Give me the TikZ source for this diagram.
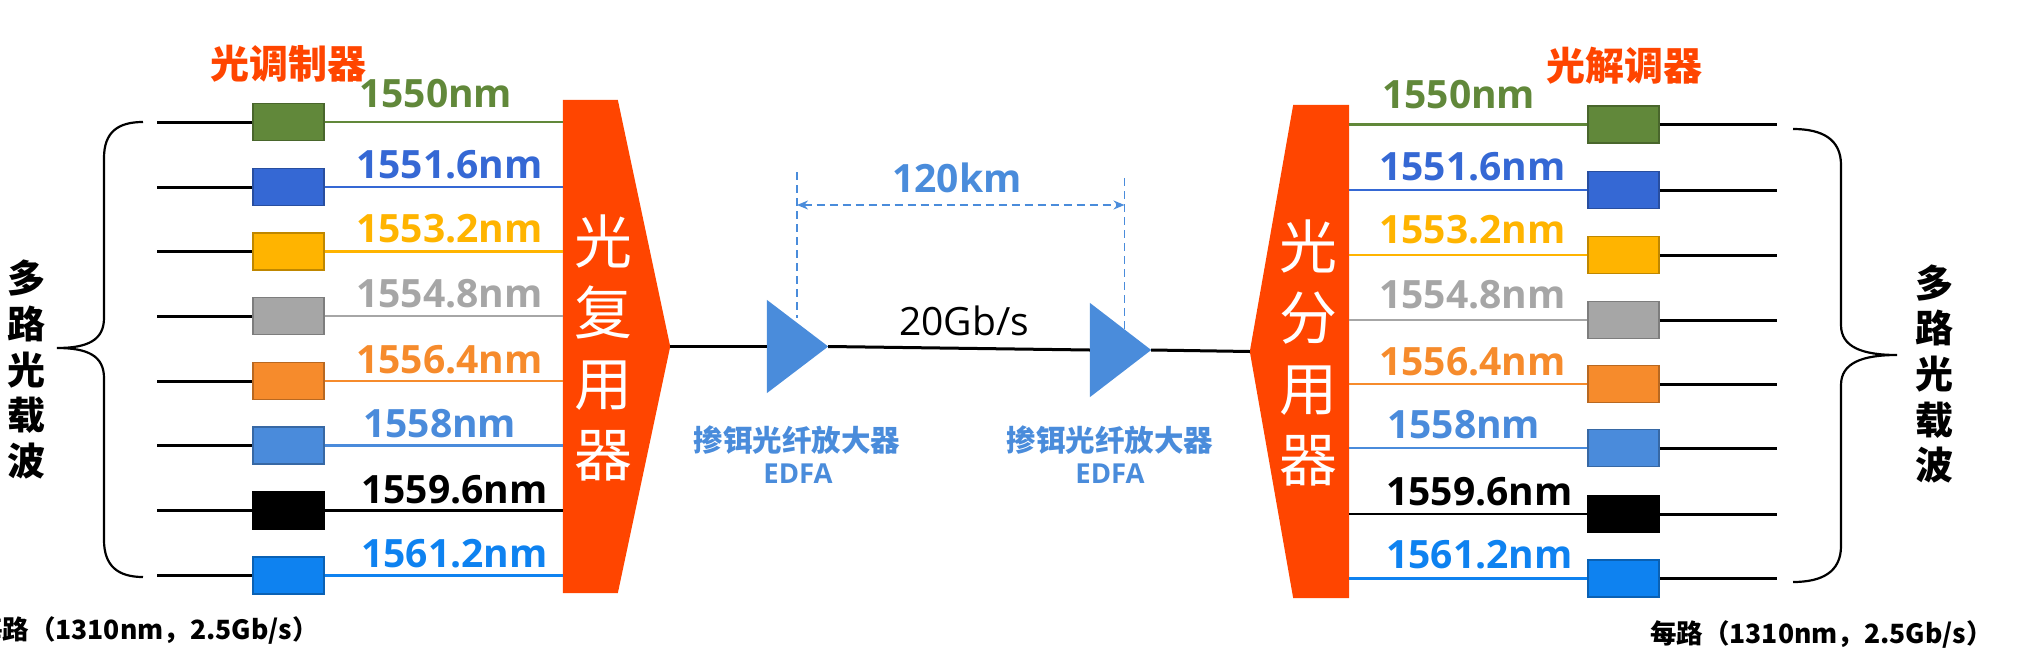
\documentclass[tikz,border=0pt]{standalone}
\usepackage{fontspec}
\setmainfont{Open Sans}
\newfontfamily\cjk{Noto Sans CJK SC}
\usetikzlibrary{arrows.meta}
\newcommand\setfs[2]{\fontsize{#1}{#2}\selectfont}
\definecolor{cG}{HTML}{61883A}
\definecolor{cB}{HTML}{3568D4}
\definecolor{cY}{HTML}{FFB400}
\definecolor{cGr}{HTML}{A6A6A6}
\definecolor{cO}{HTML}{F68B2C}
\definecolor{cLB}{HTML}{4A8BDB}
\definecolor{cK}{HTML}{000000}
\definecolor{cBB}{HTML}{0E82F0}
\definecolor{cR}{HTML}{FF4500}
\definecolor{cA}{HTML}{4A8CDB}
\begin{document}
\begin{tikzpicture}[x=1pt,y=-1pt,
  box/.style={minimum width=71pt,minimum height=37pt,inner sep=0pt,line width=1.2pt},
  blk/.style={line width=3pt,black},
  colln/.style={line width=2.5pt},
  lbl/.style={inner sep=0pt,font=\bfseries\setfs{39}{39},anchor=base west},
  title/.style={inner sep=0pt,text=cR,font=\cjk\bfseries\setfs{39}{39}},
  muxtxt/.style={inner sep=0pt,text=white,align=center,font=\cjk\setfs{58}{71}},
  vtxt/.style={inner sep=0pt,align=center,font=\cjk\bfseries\setfs{38}{45.7}},
  amp/.style={minimum width=61pt,inner sep=0pt},
  dashln/.style={cA,line width=1.8pt,dash pattern=on 8pt off 5pt},
  bracepath/.style={line width=2.2pt,black},
  edfa/.style={inner sep=0pt,text=cA,font=\cjk\bfseries\setfs{29.5}{29.5}},
  edfb/.style={inner sep=0pt,text=cA,font=\bfseries\setfs{27.5}{27.5}},
  note/.style={inner sep=0pt,font=\cjk\bfseries\setfs{26.5}{26.5}},
  trunk/.style={line width=3pt,black}]
\useasboundingbox (0,0) rectangle (2019,664);

% multiplexer and demultiplexer
\node[minimum width=107pt,minimum height=493pt,inner sep=0pt] (mux) at (616.5,346.5) {};
\fill[cR] (mux.north west) -- ([xshift=55pt]mux.north west) -- (mux.east) -- ([xshift=55pt]mux.south west) -- (mux.south west) -- cycle;
\node[muxtxt] (muxt) at (603,347.5) {光\\复\\用\\器};

\node[minimum width=99pt,minimum height=493pt,inner sep=0pt] (demux) at (1299.5,351.5) {};
\fill[cR] (demux.north east) -- (demux.south east) -- ([xshift=-56pt]demux.south east) -- (demux.west) -- ([xshift=-56pt]demux.north east) -- cycle;
\node[muxtxt] (demuxt) at (1308,353) {光\\分\\用\\器};

% left channels
\foreach \i/\y/\c/\t/\tx/\ty in {1/122/cG/1550nm/362/107, 2/187/cB/1551.6nm/359/178, 3/251.5/cY/1553.2nm/359/242, 4/316/cGr/1554.8nm/359/307, 5/381/cO/1556.4nm/359/373, 6/445.5/cLB/1558nm/366/437, 7/510.5/cK/1559.6nm/364/503, 8/575.5/cBB/1561.2nm/364/567}{
  \node[box,fill=\c,draw=\c!75!black] (L\i) at (288.5,\y) {};
  \coordinate (Lin\i) at (157,\y);
  \draw[blk] (Lin\i) -- (L\i.west);
  \draw[colln,draw=\c] (L\i.east) -- (L\i.east -| mux.west);
  \node[lbl,text=\c] (Lt\i) at (\tx-3,\ty) {\t};
}

% right channels
\foreach \i/\y/\c/\t/\tx/\ty in {1/124.5/cG/1550nm/1385/108, 2/190/cB/1551.6nm/1382/180, 3/255/cY/1553.2nm/1382/243, 4/320/cGr/1554.8nm/1382/308, 5/384/cO/1556.4nm/1382/375, 6/448/cLB/1558nm/1390/438, 7/514/cK/1559.6nm/1389/505, 8/578.5/cBB/1561.2nm/1389/568}{
  \node[box,fill=\c,draw=\c!75!black] (R\i) at (1623.5,\y) {};
  \coordinate (Rout\i) at (1777,\y);
  \draw[blk] (R\i.east) -- (Rout\i);
  \draw[colln,draw=\c] (R\i.west -| demux.east) -- (R\i.west);
  \node[lbl,text=\c] (Rt\i) at (\tx-3,\ty) {\t};
}

% titles
\node[title] (mod) at (288,64) {光调制器};
\node[title] (demod) at (1624,66) {光解调器};

% braces
\draw[bracepath] (143,122) .. controls (118,122) and (104,132) .. (104,158) -- (104,318) .. controls (104,340) and (88,348) .. (57,348) .. controls (88,348) and (104,356) .. (104,378) -- (104,540) .. controls (104,566) and (118,577) .. (143,577);
\draw[bracepath] (1793,129) .. controls (1822,129) and (1841,139) .. (1841,165) -- (1841,325) .. controls (1841,347) and (1862,355) .. (1897,355) .. controls (1862,355) and (1841,363) .. (1841,385) -- (1841,546) .. controls (1841,572) and (1822,582) .. (1793,582);

\node[vtxt] (vl) at (27,369.5) {多\\路\\光\\载\\波};
\node[vtxt] (vr) at (1934,374) {多\\路\\光\\载\\波};

% amplifiers
\node[amp,minimum height=93pt] (A1) at (797.5,346.5) {};
\fill[cA] (A1.north west) -- (A1.east) -- (A1.south west) -- cycle;
\node[amp,minimum height=94pt] (A2) at (1120.5,350) {};
\fill[cA] (A2.north west) -- (A2.east) -- (A2.south west) -- cycle;

\draw[trunk] (mux.east) -- (A1.west);
\draw[trunk] (A1.east) -- (A2.west);
\draw[trunk] (A2.east) -- (demux.west);

% distance
\coordinate (d1t) at (797,172);
\coordinate (d1b) at (797,318);
\coordinate (d2t) at (1124.5,178);
\coordinate (d2b) at (1124.5,330);
\coordinate (ha) at (797,205);
\coordinate (hb) at (1124.5,205);
\draw[dashln] (d1t) -- (d1b);
\draw[dashln] (d2t) -- (d2b);
\draw[dashln,{Stealth[length=11pt,width=9pt]}-{Stealth[length=11pt,width=9pt]}] (ha) -- (hb);
\node[lbl,text=cA] (km) at (892,192) {120km};
\node[inner sep=0pt,anchor=base west,font=\setfs{39}{39}] (rate) at (899,335) {20Gb/s};

% EDFA labels
\node[edfa] (e1a) at (797,440) {掺铒光纤放大器};
\node[edfb] (e1b) at (798,474) {EDFA};
\node[edfa] (e2a) at (1110,440) {掺铒光纤放大器};
\node[edfb] (e2b) at (1110,474) {EDFA};

% notes
\node[note,anchor=east] (nl) at (319,630) {每路（1310nm，2.5Gb/s）};
\node[note,anchor=west] (nr) at (1650,634) {每路（1310nm，2.5Gb/s）};
\end{tikzpicture}
\end{document}
